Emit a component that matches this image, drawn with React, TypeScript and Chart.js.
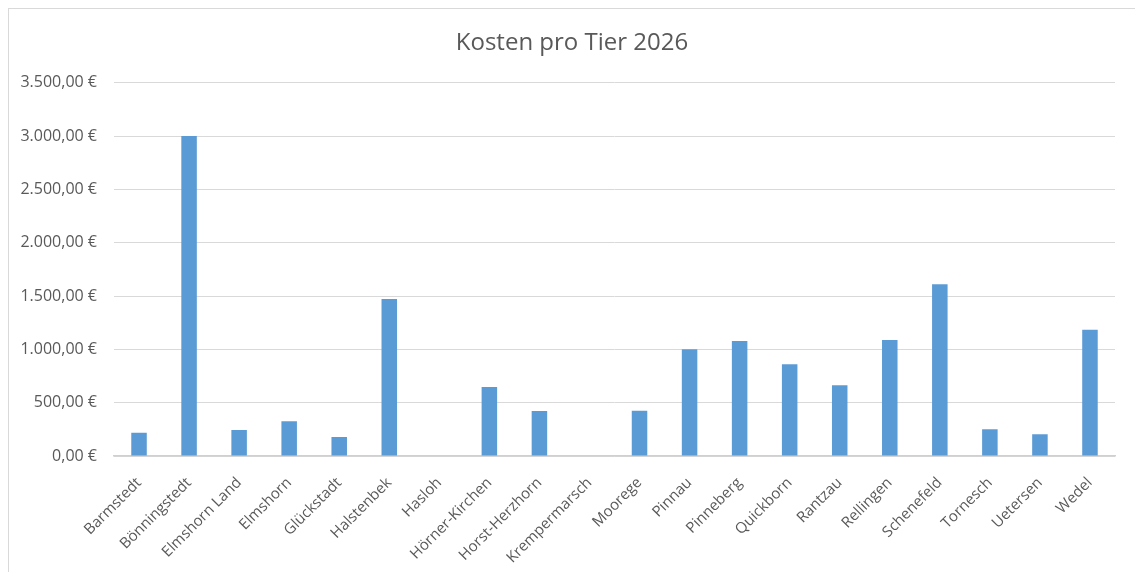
import React, { useEffect, useRef } from "react";
import { Chart, registerables } from "chart.js";

Chart.register(...registerables);

const categories = [
  "Barmstedt",
  "Bönningstedt",
  "Elmshorn Land",
  "Elmshorn",
  "Glückstadt",
  "Halstenbek",
  "Hasloh",
  "Hörner-Kirchen",
  "Horst-Herzhorn",
  "Krempermarsch",
  "Moorege",
  "Pinnau",
  "Pinneberg",
  "Quickborn",
  "Rantzau",
  "Rellingen",
  "Schenefeld",
  "Tornesch",
  "Uetersen",
  "Wedel",
];

const kostenProTier = [
  218, 3000, 245, 325, 178, 1473, 0, 647, 422, 0, 425, 1000, 1079, 860, 663,
  1088, 1610, 250, 203, 1185,
];

const chartTitle = "Kosten pro Tier 2026";
const yMin = 0;
const yMax = 3500;
const yStep = 500;

function formatEuro(v: number): string {
  const fixed = Math.abs(v).toFixed(2);
  const [intPart, dec] = fixed.split(".");
  const withDots = intPart.replace(/\B(?=(\d{3})+(?!\d))/g, ".");
  return (v < 0 ? "-" : "") + withDots + "," + dec + " €";
}

export default function App() {
  const canvasRef = useRef<HTMLCanvasElement | null>(null);

  useEffect(() => {
    if (!canvasRef.current) return;
    const font = "'Open Sans', sans-serif";
    const chart = new Chart(canvasRef.current, {
      type: "bar",
      data: {
        labels: categories,
        datasets: [
          {
            label: chartTitle,
            data: kostenProTier,
            backgroundColor: "#5B9BD5",
            borderWidth: 0,
            barPercentage: 0.31,
            categoryPercentage: 1,
          },
        ],
      },
      options: {
        animation: false,
        responsive: false,
        maintainAspectRatio: false,
        layout: { padding: 0 },
        plugins: {
          legend: { display: false },
          tooltip: { enabled: false },
          title: {
            display: true,
            text: chartTitle,
            color: "#595959",
            font: { family: font, size: 24, weight: "normal" },
            padding: { top: 20, bottom: 25 },
          },
        },
        scales: {
          x: {
            grid: { display: false, drawTicks: false },
            border: { display: true, color: "#d0d0d0", width: 1.5 },
            ticks: {
              color: "#595959",
              font: { family: font, size: 15 },
              maxRotation: 45,
              minRotation: 45,
              padding: 18,
              autoSkip: false,
            },
            afterFit: (scale: any) => {
              scale.height = 116;
            },
          },
          y: {
            min: yMin,
            max: yMax,
            grid: { color: "#d9d9d9", lineWidth: 1, drawTicks: false },
            border: { display: false },
            ticks: {
              stepSize: yStep,
              color: "#595959",
              font: { family: font, size: 16 },
              padding: 17,
              callback: (value: any) => formatEuro(Number(value)),
            },
            afterFit: (scale: any) => {
              scale.width = 105;
            },
          },
          yRight: {
            type: "linear",
            position: "right",
            display: true,
            grid: { display: false, drawTicks: false },
            border: { display: false },
            ticks: { display: false },
            afterFit: (scale: any) => {
              scale.width = 20;
            },
          },
        },
      },
    });
    return () => chart.destroy();
  }, []);

  return (
    <div
      style={{
        width: 1126,
        height: 563,
        borderTop: "1px solid #d9d9d9",
        borderLeft: "1px solid #d9d9d9",
        borderRight: "1px solid #d9d9d9",
        background: "#fff",
        overflow: "hidden",
      }}
    >
      <canvas
        ref={canvasRef}
        width={1126}
        height={563}
        style={{ display: "block", width: 1126, height: 563 }}
      />
    </div>
  );
}
